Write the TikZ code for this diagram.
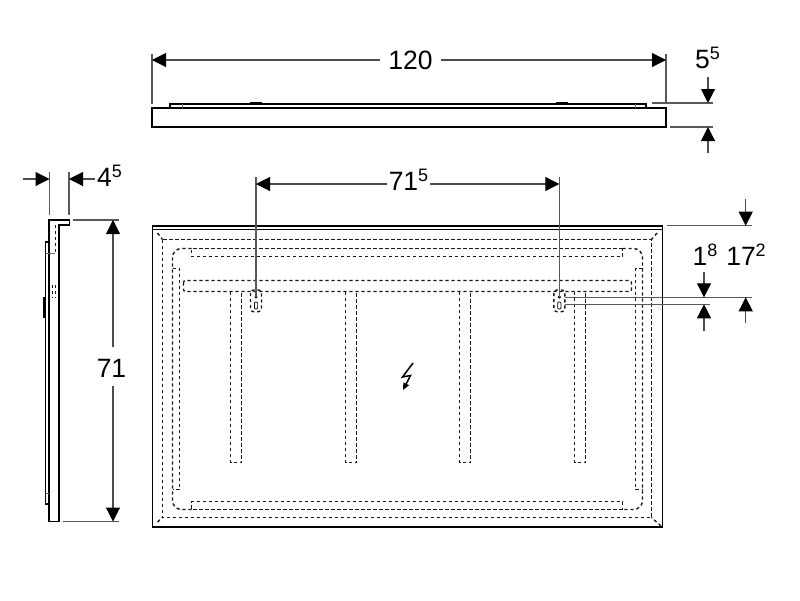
\documentclass[tikz,border=0pt]{standalone}
\usepackage{fontspec}
\setmainfont{Liberation Sans}
\usetikzlibrary{
  calc,
  arrows.meta,
  positioning}

\newcommand{\dimsup}[1]{\raisebox{9pt}{\fontsize{18}{18}\selectfont #1}}

\begin{document}
\begin{tikzpicture}[x=1pt,y=-1pt]
  \tikzset{body line/.style={line width=1.8pt,color=black},
           thin body/.style={line width=1.3pt,color=black},
           hidden line/.style={line width=1.4pt,color=black!90,dash pattern=on 3.2pt off 2.8pt},
           ext line/.style={line width=1.1pt,color=black!65},
           dim line/.style={line width=1.1pt,color=black!70,-{Triangle[length=14pt,width=14pt,color=black]}},
           dim text/.style={font=\fontsize{26.5}{26.5}\selectfont,text height=19pt,text depth=0pt,inner xsep=5pt,inner ysep=3pt}
           }

\useasboundingbox (0,0) rectangle (800,600);

%%%%%%%%%%%%%%%%%%%%%%%%%%%%%%%%%%%%%%%%%%%%%%%%%%%%%%%%%%%%%%%%%%%%%%%%%%%%%%
%% top view
\draw[body line] (152,108) rectangle (666,127);
\draw[thin body] (170,108) -- (170,104) -- (646,104) -- (646,108);
\draw[line width=0.5pt,color=black!60] (182,104) -- (182,108);
\draw[line width=0.5pt,color=black!60] (635,104) -- (635,108);
\draw[line width=2pt] (250,103) -- (262,103);
\draw[line width=2pt] (556,103) -- (568,103);

%%%%%%%%%%%%%%%%%%%%%%%%%%%%%%%%%%%%%%%%%%%%%%%%%%%%%%%%%%%%%%%%%%%%%%%%%%%%%%
%% side view
\draw[body line] (49,521.5) -- (49,220) -- (69.5,220) -- (69.5,225) -- (58.7,225) -- (58.7,521.5) -- cycle;
\draw[thin body] (49,242) -- (45.6,242) -- (45.6,504) -- (49,504);
\draw[line width=2.2pt] (44.5,297) -- (44.5,318);
\draw[line width=0.5pt,color=black!60] (46,253) -- (55,253);
\draw[line width=0.5pt,color=black!60] (46,493) -- (49,493);
\draw[hidden line] (55.5,225) -- (55.5,254);
\draw[hidden line] (55.5,285) -- (55.5,298);
\draw[hidden line] (52.5,285) -- (52.5,298);

%%%%%%%%%%%%%%%%%%%%%%%%%%%%%%%%%%%%%%%%%%%%%%%%%%%%%%%%%%%%%%%%%%%%%%%%%%%%%%
%% front view
\draw[body line] (152.5,225.7) rectangle (662.5,526.7);
\draw[thin body] (152.5,229.7) -- (662.5,229.7);

\draw[hidden line] (162.5,239.5) rectangle (651.5,517.5);
\draw[hidden line] (157.5,233) -- (162.5,239.5);
\draw[hidden line] (657,233) -- (651.5,239.5);
\draw[hidden line] (157.5,522) -- (162.5,517.5);
\draw[hidden line] (661,526) -- (651.5,517.5);

\draw[hidden line,rounded corners=9pt] (191.5,248.5) -- (172.5,248.5) -- (172.5,509.5) -- (191.5,509.5);
\draw[hidden line,rounded corners=9pt] (622.5,248.5) -- (642.5,248.5) -- (642.5,509.5) -- (622.5,509.5);
\draw[hidden line] (622.5,248.5) -- (191.5,248.5) -- (191.5,256.5) -- (622.5,256.5) -- cycle;
\draw[hidden line] (622.5,509.5) -- (191.5,509.5) -- (191.5,501.5) -- (622.5,501.5) -- cycle;
\draw[hidden line] (172.5,268.5) -- (179.5,268.5) -- (179.5,489.5) -- (172.5,489.5);
\draw[hidden line] (642.5,268.5) -- (635.5,268.5) -- (635.5,489.5) -- (642.5,489.5);
\draw[hidden line,rounded corners=2pt] (183.5,280.5) rectangle (631.5,291.5);

\foreach \ribx in {230.5,345.5,459.5,574.5}
  \draw[hidden line] (\ribx,291.5) -- (\ribx,462.5) -- ($(\ribx,462.5)+(11,0)$) -- ($(\ribx,291.5)+(11,0)$);

\foreach \slotx in {256,559.3} {
  \draw[hidden line,rounded corners=3pt] ($(\slotx,290)+(-5.5,0)$) rectangle ($(\slotx,311.7)+(5.5,0)$);
  \draw[line width=0.7pt,fill=black!60] (\slotx,297) circle (1.2pt);
  \draw[line width=0.7pt,rounded corners=1pt] ($(\slotx,302)+(-1.6,0)$) rectangle ($(\slotx,309)+(1.6,0)$);
}

\draw[line width=1.5pt,-{Triangle[length=7pt,width=6pt]}] (413,363) -- (402.5,377) -- (410.5,375.5) -- (403,390);

%%%%%%%%%%%%%%%%%%%%%%%%%%%%%%%%%%%%%%%%%%%%%%%%%%%%%%%%%%%%%%%%%%%%%%%%%%%%%%
%% dimensions
\coordinate (W1) at (152,60);
\coordinate (W2) at (666,60);
\node[dim text,inner xsep=8pt] (W) at (410.5,60) {120};
\draw[ext line] (152,54) -- (152,104);
\draw[ext line] (666,54) -- (666,104);
\draw[dim line] (W1 -| W.west) -- (W1);
\draw[dim line] (W2 -| W.east) -- (W2);

\coordinate (H1) at (708,103);
\coordinate (H2) at (708,127);
\node[dim text] (H) at (707.5,58.5) {5\dimsup{5}};
\draw[ext line] (652,103) -- (713,103);
\draw[ext line] (670,127) -- (713,127);
\draw[dim line] (708,77) -- (H1);
\draw[dim line] (708,153) -- (H2);

\coordinate (D1) at (49.5,179);
\coordinate (D2) at (69,179);
\node[dim text] (D) at (109.5,177) {4\dimsup{5}};
\draw[ext line] (49.5,172) -- (49.5,215);
\draw[ext line] (69,172) -- (69,215);
\draw[dim line] (23,179) -- (D1);
\draw[dim line] (95,179) -- (D2);

\coordinate (S1) at (113,220);
\coordinate (S2) at (113,521.5);
\node[dim text,fill=white] (S) at (111.5,368) {71};
\draw[ext line] (73,220) -- (119,220);
\draw[ext line] (63,521.5) -- (119,521.5);
\draw[dim line] (113,347) -- (S1);
\draw[dim line] (113,385.5) -- (S2);

\coordinate (M1) at (256,184);
\coordinate (M2) at (559.3,184);
\node[dim text,inner xsep=2pt] (M) at (408.5,181) {71\dimsup{5}};
\draw[ext line] (256,177) -- (256,297);
\draw[ext line] (559.3,177) -- (559.3,297);
\draw[dim line] (M1 -| M.west) -- (M1);
\draw[dim line] (M2 -| M.east) -- (M2);

\coordinate (A1) at (745.7,225.7);
\coordinate (A2) at (745.7,297.3);
\node[dim text] (A) at (746,256) {17\dimsup{2}};
\draw[ext line] (667,225.7) -- (752,225.7);
\draw[ext line] (565,297.3) -- (752,297.3);
\draw[dim line] (745.7,199) -- (A1);
\draw[dim line] (745.7,323) -- (A2);

\coordinate (B1) at (704,297.3);
\coordinate (B2) at (704,304.3);
\node[dim text] (B) at (705,256) {1\dimsup{8}};
\draw[ext line] (565,304.3) -- (710,304.3);
\draw[dim line] (704,271.5) -- (B1);
\draw[dim line] (704,331) -- (B2);

%%%%%%%%%%%%%%%%%%%%%%%%%%%%%%%%%%%%%%%%%%%%%%%%%%%%%%%%%%%%%%%%%%%%%%%%%%%%%%

\end{tikzpicture}
\end{document}
